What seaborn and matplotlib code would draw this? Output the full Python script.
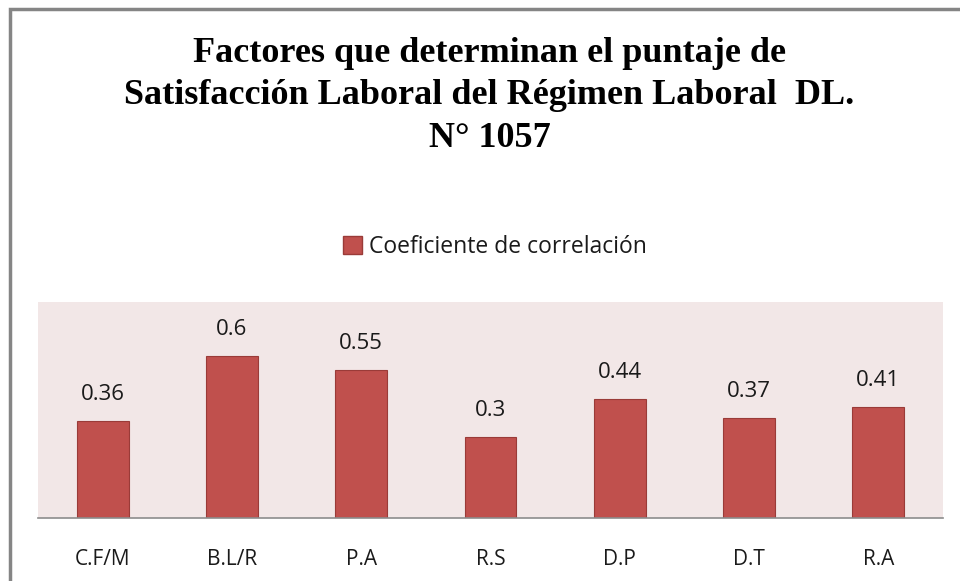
import matplotlib
matplotlib.use("Agg")
import matplotlib.pyplot as plt
import seaborn as sns
import pandas as pd
from matplotlib.patches import Rectangle, Patch

categories = ["C.F/M", "B.L/R", "P.A", "R.S", "D.P", "D.T", "R.A"]
values = [0.36, 0.6, 0.55, 0.3, 0.44, 0.37, 0.41]
value_labels = ["0.36", "0.6", "0.55", "0.3", "0.44", "0.37", "0.41"]
series_name = "Coeficiente de correlación"
title = "Factores que determinan el puntaje de\nSatisfacción Laboral del Régimen Laboral  DL.\nN° 1057"

df = pd.DataFrame({"cat": categories, "val": values})

sns.set_theme(style="white")
plt.rcParams['font.family'] = ['Open Sans', 'DejaVu Sans']

fig = plt.figure(figsize=(9.6, 5.81), dpi=100)
ax = fig.add_axes([38/960, 1-518/581, (943-38)/960, (518-302)/581])

bar_color = "#C0504D"
sns.barplot(data=df, x="cat", y="val", color=bar_color, width=0.40,
            edgecolor="#9A3B38", linewidth=0.8, saturation=1, ax=ax)
ax.set_facecolor("#F2E7E7")
ax.set_ylim(0, 0.8)
ax.set_xlim(-0.5, len(categories)-0.5)
ax.set_yticks([])
ax.set_xlabel("")
ax.set_ylabel("")
for s in ["top", "left", "right"]:
    ax.spines[s].set_visible(False)
ax.spines["bottom"].set_color("#8C8C8C")
ax.spines["bottom"].set_linewidth(1.2)
ax.tick_params(axis="x", length=0, pad=22, labelsize=15, labelcolor="#1a1a1a")

for i, (v, lab) in enumerate(zip(values, value_labels)):
    ax.annotate(lab, (i, v), xytext=(0, 19), textcoords="offset points",
                ha="center", va="center", fontsize=16, color="#1a1a1a")

fig.text(0.51, 1-96/581, title, ha="center", va="center",
         family=["Liberation Serif"], fontweight="bold", fontsize=26,
         linespacing=1.38, color="black")

handles = [Patch(facecolor=bar_color, edgecolor="#9A3B38", label=series_name)]
fig.legend(handles=handles, loc="center", bbox_to_anchor=(495/960, 1-247/581),
           frameon=False, fontsize=16.5, handlelength=0.8, handleheight=0.8,
           handletextpad=0.3, labelcolor="#1a1a1a")

fig.patches.append(Rectangle((10/960, -0.1), 1.2, 1.1-9/581, transform=fig.transFigure,
                             fill=False, edgecolor="#858585", linewidth=2.5))

fig.savefig("out.png", dpi=100)
